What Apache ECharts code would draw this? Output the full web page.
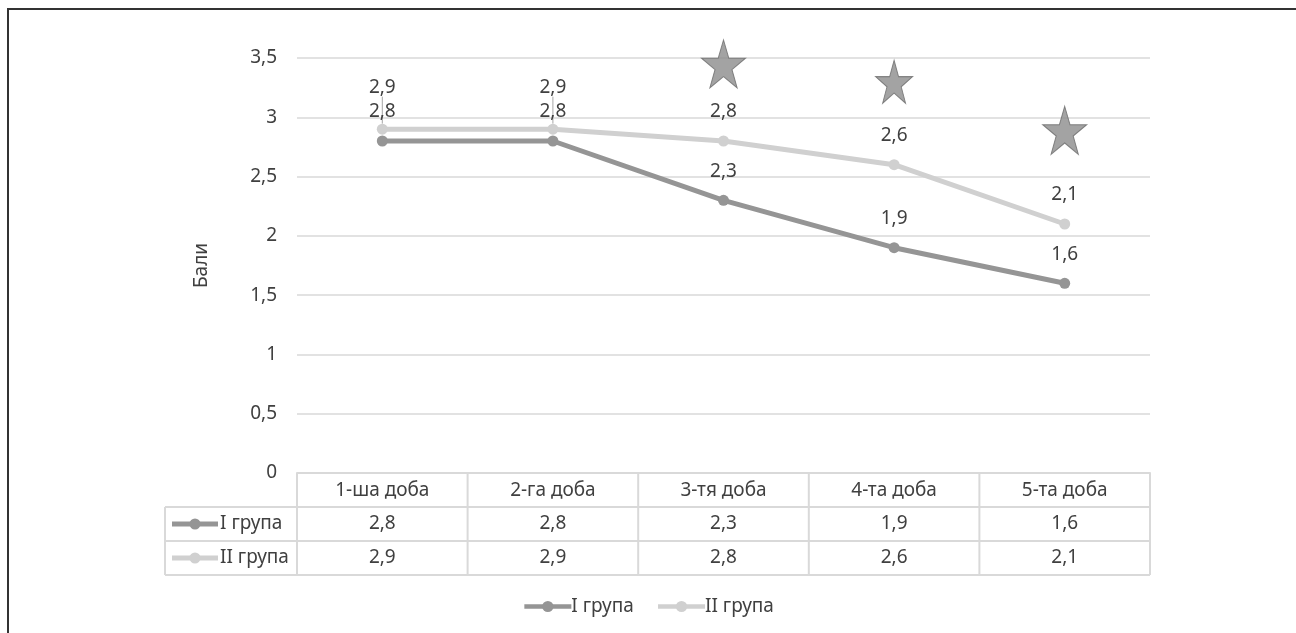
<!DOCTYPE html>
<html><head><meta charset="utf-8">
<script src="https://cdn.jsdelivr.net/npm/echarts@6/dist/echarts.min.js"></script>
<style>html,body{margin:0;padding:0;background:#fff}#c{width:1296px;height:633px}</style>
</head><body><div id="c"></div>
<script>
// ---- data ----
const categories = ['1-ша доба', '2-га доба', '3-тя доба', '4-та доба', '5-та доба'];
const seriesNames = ['I група', 'II група'];
const group1 = [2.8, 2.8, 2.3, 1.9, 1.6];
const group2 = [2.9, 2.9, 2.8, 2.6, 2.1];
const starCategoryIndex = [2, 3, 4];
const starValues = [3.45, 3.3, 2.89];
const yMin = 0, yMax = 3.5, yStep = 0.5;
const yAxisTitle = 'Бали';

// ---- style ----
const FONT = 'Noto Sans';
const TXT = '#404040';
const C1 = '#959595';
const C2 = '#d0d0d0';
const GRIDC = '#d9d9d9';
const G = {left: 297, right: 1150, top: 58, bottom: 473};
const ROW = 34;
const TABLE_LEFT = 165;
const FS = 19;

const fmt = v => String(v).replace('.', ',');
const STAR = 'path://M50,0 L61.8,35.1 L98.9,35.1 L68.9,56.8 L80.3,91.9 L50,70.2 L19.7,91.9 L31.1,56.8 L1.1,35.1 L38.2,35.1 Z';
const starSizes = [[44, 48], [37, 43], [44, 48]];

const chart = echarts.init(document.getElementById('c'), null, {renderer: 'canvas'});

function labelCfg() {
  return {show: true, position: 'top', distance: 14, color: TXT, fontFamily: FONT, fontSize: FS,
    formatter: p => fmt(p.value)};
}

const option = {
  animation: false,
  backgroundColor: '#fff',
  textStyle: {fontFamily: FONT},
  grid: {left: G.left, right: 1296 - G.right, top: G.top, bottom: 633 - G.bottom, containLabel: false},
  legend: {
    bottom: 12, left: 'center', itemWidth: 47, itemHeight: 14, itemGap: 22,
    lineStyle: {width: 4.5},
    textStyle: {color: TXT, fontSize: FS, fontFamily: FONT, padding: [0, 0, 0, -5]},
    data: seriesNames
  },
  xAxis: {
    type: 'category', data: categories, boundaryGap: true,
    axisLine: {show: true, lineStyle: {color: GRIDC, width: 2}},
    axisTick: {show: false},
    axisLabel: {color: TXT, fontSize: FS, fontFamily: FONT, margin: 8}
  },
  yAxis: {
    type: 'value', min: yMin, max: yMax, interval: yStep,
    name: yAxisTitle, nameLocation: 'middle', nameRotate: 90, nameGap: 86,
    nameTextStyle: {color: TXT, fontSize: FS, fontFamily: FONT},
    axisLine: {show: false}, axisTick: {show: false},
    axisLabel: {color: TXT, fontSize: FS, fontFamily: FONT, margin: 20, formatter: v => fmt(v)},
    splitLine: {lineStyle: {color: GRIDC, width: 1.5}}
  },
  series: [
    {
      name: seriesNames[0], type: 'line', data: group1, z: 3,
      symbol: 'circle', symbolSize: 11,
      itemStyle: {color: C1}, lineStyle: {color: C1, width: 5},
      label: labelCfg()
    },
    {
      name: seriesNames[1], type: 'line', z: 2,
      data: group2.map((v, i) => (i < 2 ? {value: v, labelLine: {show: true}} : {value: v, labelLine: {show: false}})),
      symbol: 'circle', symbolSize: 11,
      itemStyle: {color: C2}, lineStyle: {color: C2, width: 5},
      label: labelCfg(),
      labelLine: {show: false, lineStyle: {color: '#a6a6a6', width: 1}},
      labelLayout: p => (p.dataIndex < 2 ? {dy: -13} : {})
    },
    {
      name: 'stars', type: 'scatter', z: 4,
      data: starCategoryIndex.map((c, i) => ({value: [c, starValues[i]], symbolSize: starSizes[i]})),
      symbol: STAR,
      itemStyle: {color: '#8c8c8c', borderColor: '#6a6a6a', borderWidth: 1},
      silent: true
    }
  ],
  graphic: []
};
chart.setOption(option);

// ---- data table under the plot ----
const n = categories.length;
const band = (G.right - G.left) / n;
const els = [];
const line = (x1, y1, x2, y2) => els.push({type: 'line', silent: true,
  shape: {x1, y1, x2, y2}, style: {stroke: GRIDC, lineWidth: 2}});
const y0 = G.bottom, y1 = y0 + ROW, y2 = y1 + ROW, y3 = y2 + ROW;
line(TABLE_LEFT, y1, G.right, y1);
line(TABLE_LEFT, y2, G.right, y2);
line(TABLE_LEFT, y3, G.right, y3);
line(TABLE_LEFT, y1, TABLE_LEFT, y3);
for (let i = 0; i <= n; i++) {
  const x = G.left + i * band;
  line(x, y0, x, y3);
}
const rows = [group1, group2];
const colors = [C1, C2];
rows.forEach((vals, r) => {
  const cy = y1 + ROW * r + ROW / 2;
  vals.forEach((v, i) => {
    const cx = chart.convertToPixel({xAxisIndex: 0}, i);
    els.push({type: 'text', silent: true, x: cx, y: cy,
      style: {text: fmt(v), fill: TXT, font: FS + 'px "' + FONT + '"', align: 'center', verticalAlign: 'middle'}});
  });
  els.push({type: 'line', silent: true, shape: {x1: 172, y1: cy, x2: 218, y2: cy},
    style: {stroke: colors[r], lineWidth: 5}});
  els.push({type: 'circle', silent: true, shape: {cx: 195, cy: cy, r: 5.5}, style: {fill: colors[r]}});
  els.push({type: 'text', silent: true, x: 220, y: cy,
    style: {text: seriesNames[r], fill: TXT, font: FS + 'px "' + FONT + '"', align: 'left', verticalAlign: 'middle'}});
});
// outer frame
els.push({type: 'rect', silent: true, shape: {x: 8, y: 9, width: 1400, height: 800},
  style: {fill: 'none', stroke: '#333', lineWidth: 2}});
chart.setOption({graphic: els});
</script>
</body></html>
